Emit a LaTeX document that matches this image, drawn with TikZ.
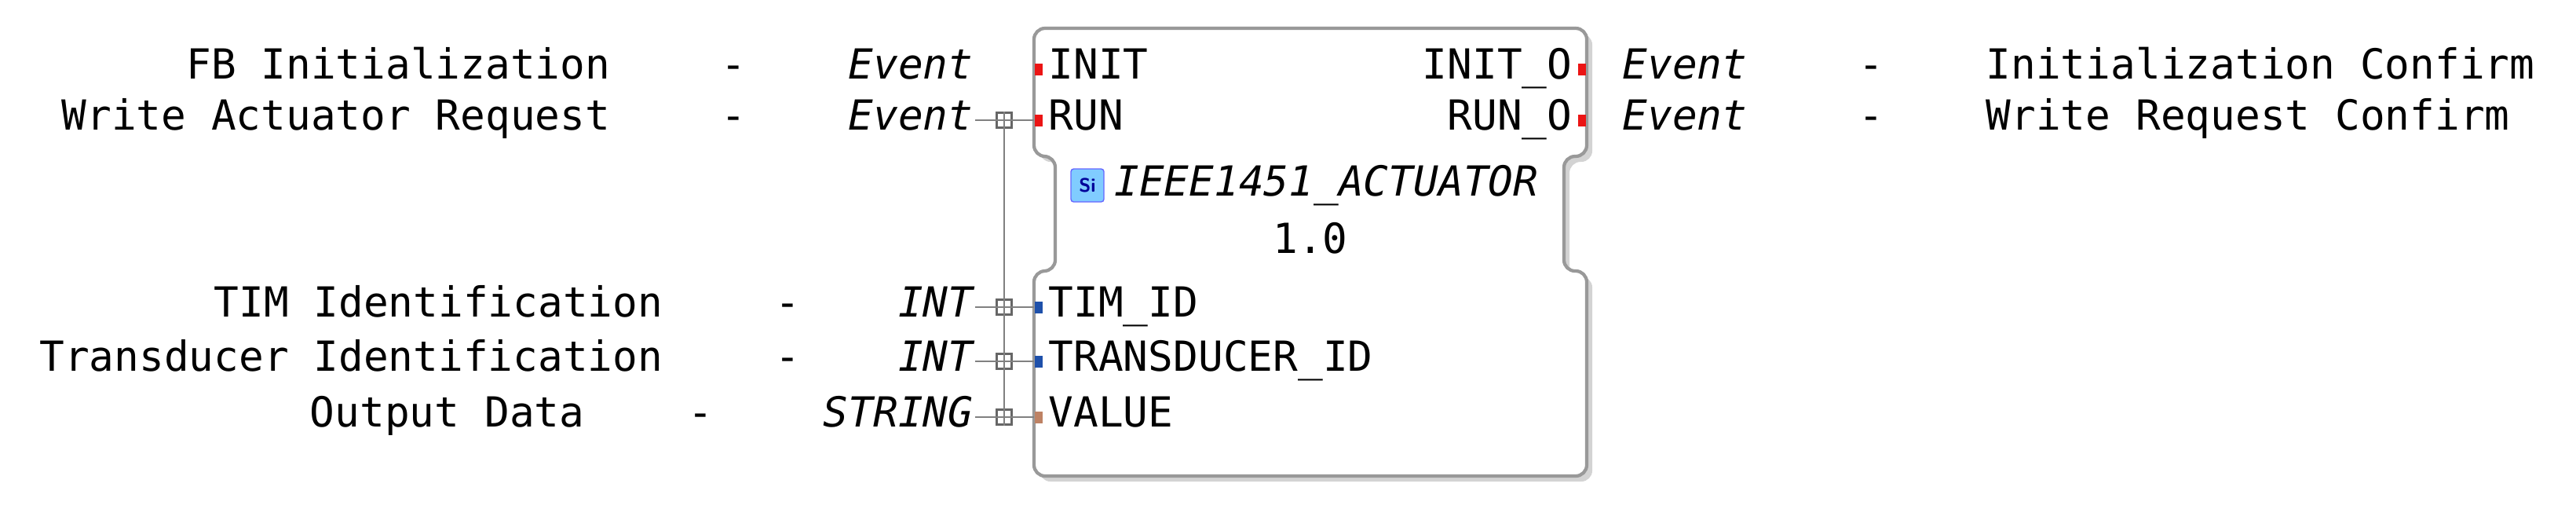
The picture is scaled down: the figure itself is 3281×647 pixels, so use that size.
\documentclass[tikz,border=0pt]{standalone}
\usepackage{fontspec}
\setmonofont{DejaVu Sans Mono}
\usetikzlibrary{positioning,shadows}
\definecolor{evt}{RGB}{235,20,20}
\definecolor{intc}{RGB}{30,80,170}
\definecolor{strc}{RGB}{190,130,100}
\tikzstyle{txt} = [font=\ttfamily\fontsize{15}{18}\selectfont, inner sep=0pt, anchor=base]
\tikzstyle{typ} = [txt, font=\ttfamily\itshape\fontsize{15}{18}\selectfont, anchor=base east]
\tikzstyle{junc} = [draw=gray!80!black, fill=white, line width=0.6pt, minimum size=0.19cm, inner sep=0pt]
\tikzstyle{wire} = [draw=gray, line width=0.8pt]
\begin{document}
\begin{tikzpicture}[x=0.01cm, y=-0.01cm]
\useasboundingbox (0,0) rectangle (3281,647);
% block outline
\draw [draw=gray!80, line width=1.2pt, fill=white, rounded corners=4pt, drop shadow={shadow xshift=2pt, shadow yshift=-2pt, opacity=0.35}]
  (1317,36) -- (2021,36) -- (2021,199) -- (1992,199) -- (1992,345) -- (2021,345) -- (2021,606)
  -- (1317,606) -- (1317,345) -- (1344,345) -- (1344,199) -- (1317,199) -- cycle;
% port names
\node (init) [txt, anchor=base west] at (1335,100) {INIT};
\node (run) [txt, anchor=base west] at (1335,165) {RUN};
\node (inito) [txt, anchor=base east] at (2003,100) {INIT\_O};
\node (runo) [txt, anchor=base east] at (2003,165) {RUN\_O};
\node (timid) [txt, anchor=base west] at (1335,403) {TIM\_ID};
\node (trid) [txt, anchor=base west] at (1335,472) {TRANSDUCER\_ID};
\node (value) [txt, anchor=base west] at (1335,543) {VALUE};
% title
\node (icon) [fill=blue!40!cyan!50, draw=blue!60, rounded corners=1pt, minimum width=0.42cm, minimum height=0.42cm, inner sep=0pt, font=\sffamily\bfseries\scriptsize, text=blue!60!black] at (1385,236) {Si};
\node (title) [txt, font=\ttfamily\itshape\fontsize{15}{18}\selectfont, anchor=west, right=0.12cm of icon] {IEEE1451\_ACTUATOR};
\node (ver) [txt] at (1669,322) {1.0};
% port markers
\foreach \n/\y/\c in {pinit/88/evt, prun/153/evt, ptim/391/intc, ptr/460/intc, pval/531/strc}
  \node (\n) [fill=\c, minimum width=0.1cm, minimum height=0.15cm, inner sep=0pt] at (1323,\y) {};
\foreach \n/\y in {pinito/88, pruno/153}
  \node (\n) [fill=evt, minimum width=0.1cm, minimum height=0.15cm, inner sep=0pt] at (2015,\y) {};
% left side
\node (e1) [typ] at (1240,100) {Event};
\node (e2) [typ] at (1240,165) {Event};
\node (t1) [typ] at (1240,403) {INT};
\node (t2) [typ] at (1240,472) {INT};
\node (t3) [typ] at (1240,543) {STRING};
\node (d1) [txt] at (934,100) {-};
\node (d2) [txt] at (934,165) {-};
\node (d3) [txt] at (1003,403) {-};
\node (d4) [txt] at (1003,472) {-};
\node (d5) [txt] at (892,543) {-};
\node (l1) [txt, anchor=base east] at (778,100) {FB Initialization};
\node (l2) [txt, anchor=base east] at (778,165) {Write Actuator Request};
\node (l3) [txt, anchor=base east] at (845,403) {TIM Identification};
\node (l4) [txt, anchor=base east] at (845,472) {Transducer Identification};
\node (l5) [txt, anchor=base east] at (745,543) {Output Data};
% right side
\node (e3) [txt, font=\ttfamily\itshape\fontsize{15}{18}\selectfont, anchor=base west] at (2066,100) {Event};
\node (e4) [txt, font=\ttfamily\itshape\fontsize{15}{18}\selectfont, anchor=base west] at (2066,165) {Event};
\node (d6) [txt] at (2383,100) {-};
\node (d7) [txt] at (2383,165) {-};
\node (r1) [txt, anchor=base west] at (2529,100) {Initialization Confirm};
\node (r2) [txt, anchor=base west] at (2529,165) {Write Request Confirm};
% wires with junctions
\draw [wire] (1279,153) -- (1279,531);
\foreach \j/\p/\y in {j2/prun/153, j3/ptim/391, j4/ptr/460, j5/pval/531} {
  \draw [wire] (1242,\y) -- (\p.west);
  \node (\j) [junc] at (1279,\y) {};
  \draw [wire] (\j.north) -- (\j.south);
  \draw [wire] (\j.west) -- (\j.east);
}
\end{tikzpicture}
\end{document}
